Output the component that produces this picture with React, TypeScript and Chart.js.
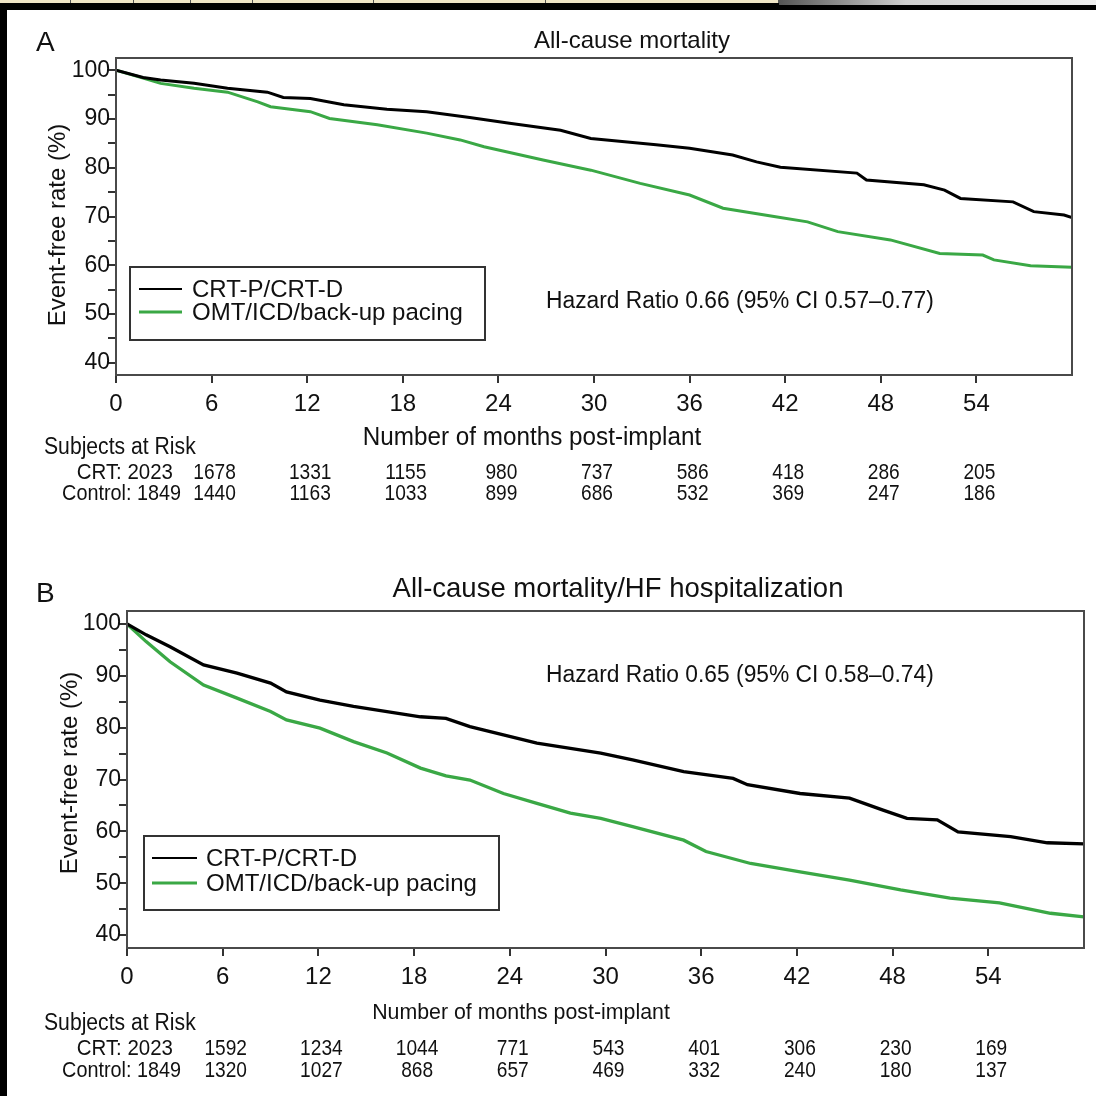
import React, { useEffect, useRef } from "react";
import { Chart, registerables } from "chart.js";

Chart.register(...registerables);

// ---------- data ----------
const MONTH_TICKS = [0, 6, 12, 18, 24, 30, 36, 42, 48, 54];
const RATE_TICKS = [40, 45, 50, 55, 60, 65, 70, 75, 80, 85, 90, 95, 100];
const SERIES_LABELS = ["CRT-P/CRT-D", "OMT/ICD/back-up pacing"];

// Panel A: all-cause mortality
const aCrtMonths = [0, 1.7, 2.8, 4.9, 7.0, 9.5, 10.5, 12.2, 14.3, 17.0, 19.5, 22.2, 24.7, 27.9, 29.8, 33.9, 36.0, 38.7, 40.2, 41.7, 46.5, 47.1, 50.7, 52.0, 53.0, 56.3, 57.6, 59.5, 60];
const aCrtRate = [100, 98.5, 98.0, 97.3, 96.3, 95.5, 94.4, 94.2, 92.9, 92.0, 91.5, 90.3, 89.1, 87.7, 86.0, 84.7, 84.0, 82.6, 81.2, 80.1, 78.9, 77.5, 76.5, 75.4, 73.7, 73.0, 71.0, 70.3, 69.8];
const aCtrlMonths = [0, 1.7, 2.8, 4.9, 7.0, 8.9, 9.7, 12.2, 13.4, 16.4, 19.5, 21.6, 23.1, 26.8, 29.8, 32.9, 36.0, 38.1, 41.3, 43.4, 45.3, 48.6, 51.7, 54.4, 55.1, 57.4, 60];
const aCtrlRate = [100, 98.4, 97.3, 96.3, 95.5, 93.5, 92.5, 91.5, 90.1, 88.8, 87.1, 85.7, 84.3, 81.6, 79.5, 76.8, 74.4, 71.7, 70.0, 68.9, 66.9, 65.2, 62.4, 62.1, 61.1, 59.9, 59.6];
const aCrtAtRisk = [2023, 1678, 1331, 1155, 980, 737, 586, 418, 286, 205];
const aCtrlAtRisk = [1849, 1440, 1163, 1033, 899, 686, 532, 369, 247, 186];

// Panel B: all-cause mortality / HF hospitalization
const bCrtMonths = [0, 1.2, 2.7, 4.8, 6.9, 9.0, 10.0, 12.1, 14.2, 16.3, 18.4, 20.0, 21.5, 23.6, 25.7, 27.8, 29.7, 31.7, 34.9, 38.0, 38.9, 42.2, 45.3, 47.4, 48.9, 50.8, 52.1, 55.4, 57.7, 60];
const bCrtRate = [100, 97.9, 95.6, 92.1, 90.5, 88.6, 86.9, 85.3, 84.1, 83.1, 82.1, 81.8, 80.2, 78.6, 77.0, 76.0, 75.1, 73.8, 71.5, 70.2, 69.0, 67.3, 66.4, 64.1, 62.5, 62.2, 59.9, 59.0, 57.8, 57.6];
const bCtrlMonths = [0, 1.2, 2.7, 4.8, 6.9, 9.0, 10.0, 12.1, 14.2, 16.3, 18.4, 20.0, 21.5, 23.6, 25.7, 27.8, 29.7, 31.7, 34.9, 36.3, 39.1, 42.2, 45.3, 48.5, 51.6, 54.7, 57.9, 60];
const bCtrlRate = [100, 96.6, 92.7, 88.2, 85.7, 83.1, 81.5, 79.9, 77.3, 75.1, 72.2, 70.7, 69.9, 67.3, 65.4, 63.5, 62.5, 60.9, 58.3, 56.1, 53.8, 52.2, 50.6, 48.7, 47.1, 46.2, 44.2, 43.5];
const bCrtAtRisk = [2023, 1592, 1234, 1044, 771, 543, 401, 306, 230, 169];
const bCtrlAtRisk = [1849, 1320, 1027, 868, 657, 469, 332, 240, 180, 137];

// ---------- style / layout ----------
const FAMILY = '"Liberation Sans", Arial, Helvetica, sans-serif';
const f = (px: number) => `${px}px ${FAMILY}`;
const CRT_COLOR = "#000000";
const CTRL_COLOR = "#3aa845";
const X_AXIS_H = 50;

type Spec = {
  top: number;
  height: number;
  area: { left: number; right: number; top: number; bottom: number };
  letter: string;
  letterY: number;
  title: string;
  titleSize: number;
  titleX: number;
  titleY: number;
  yTitleX: number;
  yTitleY: number;
  xTitle: string;
  xTitleSize: number;
  xTitleX: number;
  xTitleY: number;
  legend: { x: number; y: number; w: number; h: number; row1: number; row2: number; lineX0: number; lineX1: number; textX: number };
  hr: string;
  hrX: number;
  hrY: number;
  riskHeadY: number;
  riskRow1: number;
  riskRow2: number;
  crtMonths: number[];
  crtRate: number[];
  ctrlMonths: number[];
  ctrlRate: number[];
  crtRisk: number[];
  ctrlRisk: number[];
  lineWidth: number;
};

const specA: Spec = {
  top: 0,
  height: 540,
  area: { left: 116, right: 1072, top: 58, bottom: 375 },
  letter: "A",
  letterY: 51,
  title: "All-cause mortality",
  titleSize: 24,
  titleX: 632,
  titleY: 48,
  yTitleX: 58,
  yTitleY: 225,
  xTitle: "Number of months post-implant",
  xTitleSize: 25,
  xTitleX: 532,
  xTitleY: 438,
  legend: { x: 130, y: 267, w: 355, h: 73, row1: 289, row2: 312, lineX0: 139, lineX1: 182, textX: 192 },
  hr: "Hazard Ratio 0.66 (95% CI 0.57–0.77)",
  hrX: 546,
  hrY: 302,
  riskHeadY: 448,
  riskRow1: 473,
  riskRow2: 494,
  crtMonths: aCrtMonths,
  crtRate: aCrtRate,
  ctrlMonths: aCtrlMonths,
  ctrlRate: aCtrlRate,
  crtRisk: aCrtAtRisk,
  ctrlRisk: aCtrlAtRisk,
  lineWidth: 3,
};

const specB: Spec = {
  top: 540,
  height: 556,
  area: { left: 127, right: 1084, top: 611, bottom: 948 },
  letter: "B",
  letterY: 602,
  title: "All-cause mortality/HF hospitalization",
  titleSize: 27.5,
  titleX: 618,
  titleY: 597,
  yTitleX: 70,
  yTitleY: 773,
  xTitle: "Number of months post-implant",
  xTitleSize: 22,
  xTitleX: 521,
  xTitleY: 1013,
  legend: { x: 144, y: 836, w: 355, h: 74, row1: 858, row2: 883, lineX0: 152, lineX1: 197, textX: 206 },
  hr: "Hazard Ratio 0.65 (95% CI 0.58–0.74)",
  hrX: 546,
  hrY: 676,
  riskHeadY: 1024,
  riskRow1: 1049,
  riskRow2: 1071,
  crtMonths: bCrtMonths,
  crtRate: bCrtRate,
  ctrlMonths: bCtrlMonths,
  ctrlRate: bCtrlRate,
  crtRisk: bCrtAtRisk,
  ctrlRisk: bCtrlAtRisk,
  lineWidth: 3.3,
};

// draw text with an optional horizontal condensation (narrow type, as in the figure)
function txt(
  ctx: CanvasRenderingContext2D,
  s: string,
  x: number,
  y: number,
  size: number,
  align: CanvasTextAlign,
  sx = 1
) {
  ctx.save();
  ctx.translate(x, y);
  ctx.scale(sx, 1);
  ctx.font = f(size);
  ctx.textAlign = align;
  ctx.textBaseline = "middle";
  ctx.fillText(s, 0, 0);
  ctx.restore();
}

function overlayPlugin(s: Spec) {
  return {
    id: "overlay" + s.letter,
    afterDraw(chart: any) {
      const ctx: CanvasRenderingContext2D = chart.ctx;
      const oy = s.top;
      const ca = chart.chartArea;
      ctx.save();
      // plot frame
      ctx.strokeStyle = "#4a4a4a";
      ctx.lineWidth = 2;
      ctx.strokeRect(ca.left, ca.top, ca.right - ca.left, ca.bottom - ca.top);

      ctx.fillStyle = "#111";
      // panel letter
      ctx.font = f(28);
      ctx.textAlign = "left";
      ctx.textBaseline = "alphabetic";
      ctx.fillText(s.letter, 36, s.letterY - oy);
      // title
      ctx.font = f(s.titleSize);
      ctx.textAlign = "center";
      ctx.fillText(s.title, s.titleX, s.titleY - oy);
      // y title
      ctx.save();
      ctx.translate(s.yTitleX, s.yTitleY - oy);
      ctx.rotate(-Math.PI / 2);
      ctx.font = f(24);
      ctx.textAlign = "center";
      ctx.textBaseline = "middle";
      ctx.fillText("Event-free rate (%)", 0, 0);
      ctx.restore();
      // x title
      txt(ctx, s.xTitle, s.xTitleX, s.xTitleY - oy, s.xTitleSize, "center", 0.97);

      // legend
      const L = s.legend;
      ctx.strokeStyle = "#333";
      ctx.lineWidth = 2;
      ctx.strokeRect(L.x, L.y - oy, L.w, L.h);
      const rows = [L.row1, L.row2];
      chart.data.datasets.forEach((ds: any, i: number) => {
        ctx.strokeStyle = ds.borderColor;
        ctx.lineWidth = i === 0 ? 2 : 3;
        ctx.beginPath();
        ctx.moveTo(L.lineX0, rows[i] - oy);
        ctx.lineTo(L.lineX1, rows[i] - oy);
        ctx.stroke();
        ctx.fillStyle = "#111";
        txt(ctx, ds.label, L.textX, rows[i] - oy + 1, 24.5, "left", 0.98);
      });

      // hazard ratio
      txt(ctx, s.hr, s.hrX, s.hrY - oy, 23.5, "left", 0.97);

      // subjects at risk
      txt(ctx, "Subjects at Risk", 44, s.riskHeadY - oy, 23, "left", 0.92);
      txt(ctx, "CRT: " + s.crtRisk[0], 173, s.riskRow1 - oy, 22, "right", 0.93);
      txt(ctx, "Control: " + s.ctrlRisk[0], 181, s.riskRow2 - oy, 22, "right", 0.9);
      const xs = chart.scales.x;
      for (let i = 1; i < MONTH_TICKS.length; i++) {
        const px = xs.getPixelForValue(MONTH_TICKS[i]) + 3;
        txt(ctx, String(s.crtRisk[i]), px, s.riskRow1 - oy, 22, "center", 0.87);
        txt(ctx, String(s.ctrlRisk[i]), px, s.riskRow2 - oy, 22, "center", 0.87);
      }
      ctx.restore();
    },
  };
}

function Panel({ s }: { s: Spec }) {
  const ref = useRef<HTMLCanvasElement | null>(null);
  useEffect(() => {
    if (!ref.current) return;
    const axisCommon = {
      grid: { display: true, drawOnChartArea: false, drawTicks: true, tickLength: 8, color: "#333", lineWidth: 2 },
      border: { display: true, color: "#333", width: 2 },
    };
    const chart = new Chart(ref.current, {
      type: "line",
      data: {
        datasets: [
          {
            label: SERIES_LABELS[0],
            data: s.crtMonths.map((m, i) => ({ x: m, y: s.crtRate[i] })),
            borderColor: CRT_COLOR,
            borderWidth: s.lineWidth,
            pointRadius: 0,
            fill: false,
            tension: 0,
          },
          {
            label: SERIES_LABELS[1],
            data: s.ctrlMonths.map((m, i) => ({ x: m, y: s.ctrlRate[i] })),
            borderColor: CTRL_COLOR,
            borderWidth: s.lineWidth,
            pointRadius: 0,
            fill: false,
            tension: 0,
          },
        ],
      },
      options: {
        responsive: false,
        animation: false,
        devicePixelRatio: 1,
        layout: {
          padding: {
            left: 0,
            right: 1096 - s.area.right,
            top: s.area.top - s.top,
            bottom: s.height - (s.area.bottom - s.top) - X_AXIS_H,
          },
        },
        plugins: {
          legend: { display: false },
          title: { display: false },
          tooltip: { enabled: false },
        },
        scales: {
          x: {
            type: "linear",
            min: 0,
            max: 60,
            afterBuildTicks: (sc: any) => {
              sc.ticks = MONTH_TICKS.map((v) => ({ value: v }));
            },
            afterFit: (sc: any) => {
              sc.height = X_AXIS_H;
            },
            ticks: { autoSkip: false, maxRotation: 0, padding: 7, color: "#111", font: { family: FAMILY, size: 24 } },
            ...axisCommon,
          },
          y: {
            type: "linear",
            min: 37.5,
            max: 102.5,
            afterBuildTicks: (sc: any) => {
              sc.ticks = RATE_TICKS.map((v) => ({ value: v }));
            },
            afterFit: (sc: any) => {
              sc.width = s.area.left;
            },
            ticks: {
              autoSkip: false,
              padding: -2,
              color: "#111",
              font: { family: FAMILY, size: 23 },
              callback: (v: any) => (Number(v) % 10 === 0 ? String(v) : ""),
            },
            ...axisCommon,
          },
        },
      } as any,
      plugins: [overlayPlugin(s)],
    });
    return () => chart.destroy();
  }, [s]);
  return (
    <canvas
      ref={ref}
      width={1096}
      height={s.height}
      style={{ position: "absolute", left: 0, top: s.top, width: 1096, height: s.height }}
    />
  );
}

const STRIP_DIVIDERS = [70, 133, 190, 252, 373, 545, 778];

export default function App() {
  return (
    <div style={{ position: "absolute", left: 0, top: 0, width: 1096, height: 1096, background: "#000", overflow: "hidden" }}>
      <div style={{ position: "absolute", left: 0, top: 0, width: 778, height: 3, background: "#efe5c6" }} />
      {STRIP_DIVIDERS.map((x) => (
        <div key={x} style={{ position: "absolute", left: x, top: 0, width: 1, height: 3, background: "#555" }} />
      ))}
      <div
        style={{
          position: "absolute",
          left: 779,
          top: 0,
          width: 317,
          height: 5,
          background: "linear-gradient(to right, #555, #cfcfcf 40%, #efefef)",
        }}
      />
      <div style={{ position: "absolute", left: 7, top: 10, right: 0, bottom: 0, background: "#fff" }} />
      <Panel s={specA} />
      <Panel s={specB} />
    </div>
  );
}
